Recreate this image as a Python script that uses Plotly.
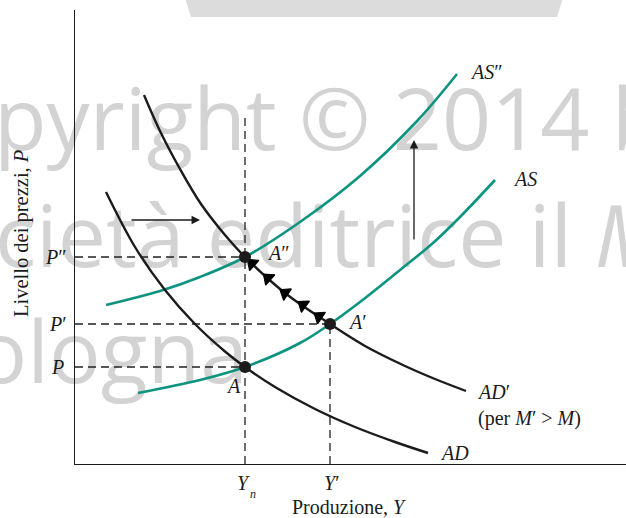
import plotly.graph_objects as go

# ---- curves: output Y (horizontal) and price level P (vertical) ----
ad_x = [3.1, 6.0, 9.0, 12.0, 15.0, 17.0, 20.0, 24.0, 28.0, 32.0, 35.3]
ad_y = [27.2, 21.7, 17.4, 14.0, 11.25, 9.7, 7.7, 5.5, 3.7, 2.2, 1.1]

adp_x = [6.9, 8.5, 10.5, 12.6, 15.0, 17.0, 21.0, 25.5, 29.0, 33.0, 36.0, 39.1]
adp_y = [36.9, 33.3, 29.5, 26.0, 22.9, 20.7, 17.1, 14.0, 11.8, 9.8, 8.5, 7.3]

as_x = [6.3, 12.5, 17.0, 22.5, 25.5, 28.5, 32.5, 35.8, 38.5, 42.0]
as_y = [7.1, 8.4, 9.7, 12.1, 14.0, 16.2, 19.4, 22.1, 24.7, 28.4]

asd_x = [3.1, 8.5, 12.5, 17.0, 22.5, 28.5, 34.3, 38.2]
asd_y = [15.9, 17.3, 18.7, 20.7, 24.2, 28.8, 34.4, 39.0]

# ---- equilibrium levels ----
Y_n, Y_1 = 17.0, 25.5
P_0, P_1, P_2 = 9.7, 14.0, 20.7
eq_x = [Y_n, Y_1, Y_n]
eq_y = [P_0, P_1, P_2]

# adjustment path from A' up to A'' along AD'
path_x = [25.5, 24.4, 22.8, 21.0, 19.3, 17.7]
path_y = [14.0, 14.75, 15.9, 17.1, 18.6, 20.05]
path_size = [0, 12, 12, 12, 12, 12]

# shift arrows: AD -> AD' (right), AS -> AS'' (up)
shift_ad = dict(x0=5.5, x1=12.5, y=24.4)
shift_as = dict(x=33.9, y0=22.3, y1=32.4)

# background copyright lines
wm_lines = ["Copyright © 2014 by", "Società editrice il <i>Mulino</i>,", "Bologna"]

W, H = 626, 518
BLACK = "#1b1b1b"
TEAL = "#0d9480"
SERIF = "Liberation Serif"

fig = go.Figure()

# watermark on a full-page pixel subplot (drawn first, sits underneath)
fig.add_trace(go.Scatter(
    x=[-112, -104, -80], y=[128, 245, 361], text=wm_lines,
    mode="text", textposition="middle right",
    textfont=dict(family="Open Sans", size=86, color="rgb(211,211,211)"),
    xaxis="x", yaxis="y", hoverinfo="skip", showlegend=False,
))

main = dict(xaxis="x2", yaxis="y2", showlegend=False, hoverinfo="skip")
dash = dict(color="#222222", width=1.3, dash="8px,5px")

# dashed guide lines
for (xs, ys) in [([0, Y_n], [P_2, P_2]), ([0, Y_1], [P_1, P_1]), ([0, Y_n], [P_0, P_0]),
                 ([Y_n, Y_n], [0, 34.7]), ([Y_1, Y_1], [0, P_1])]:
    fig.add_trace(go.Scatter(x=xs, y=ys, mode="lines", line=dash, **main))

# supply curves
for xs, ys in [(as_x, as_y), (asd_x, asd_y)]:
    fig.add_trace(go.Scatter(x=xs, y=ys, mode="lines",
                             line=dict(color=TEAL, width=2.6, shape="spline", smoothing=1.0),
                             **main))
# demand curves
for xs, ys in [(ad_x, ad_y), (adp_x, adp_y)]:
    fig.add_trace(go.Scatter(x=xs, y=ys, mode="lines",
                             line=dict(color=BLACK, width=2.4, shape="spline", smoothing=1.0),
                             **main))

# arrowheads along the adjustment path
fig.add_trace(go.Scatter(
    x=path_x, y=path_y, mode="markers",
    marker=dict(symbol="triangle-up", size=path_size, color="black", opacity=1,
                angleref="previous", line=dict(width=1.2, color="black")),
    **main))

# equilibrium points
fig.add_trace(go.Scatter(x=eq_x, y=eq_y, mode="markers",
                         marker=dict(size=12, color=BLACK), **main))

ann = []


def label(text, x, y, xanchor="left", xref="x2", yref="y2", size=20, angle=0):
    ann.append(dict(text=text, x=x, y=y, xref=xref, yref=yref, xanchor=xanchor,
                    yanchor="middle", showarrow=False, textangle=angle,
                    font=dict(family=SERIF, size=size, color=BLACK)))


label("<i>AS</i>″", 39.3, 39.2)
label("<i>AS</i>", 43.6, 28.5)
label("<i>AD</i>′", 40.0, 7.2)
label("(per <i>M</i>′ > <i>M</i>)", 40.1, 4.6)
label("<i>AD</i>", 36.3, 1.1)
label("<i>A</i>″", 19.0, 21.1)
label("<i>A</i>′", 27.1, 14.2)
label("<i>A</i>", 15.8, 7.8, xanchor="center")

# price levels on the vertical axis
label("<i>P</i>″", 69, P_2, xanchor="right", xref="x")
label("<i>P</i>′", 69, P_1, xanchor="right", xref="x")
label("<i>P</i>", 66, P_0, xanchor="right", xref="x")

# output levels on the horizontal axis
label("<i>Y</i>", Y_n - 0.2, 483, xanchor="center", yref="y")
label("<i>n</i>", Y_n + 0.8, 494, xanchor="center", yref="y", size=12)
label("<i>Y</i>′", Y_1 + 0.2, 483, xanchor="center", yref="y")

# axis titles
label("Produzione, <i>Y</i>", 27.4, 507, xanchor="center", yref="y")
label("Livello dei prezzi, <i>P</i>", 22, 23.0, xanchor="center", xref="x", size=20.5, angle=-90)

# shift arrows
ann.append(dict(x=shift_ad["x1"], y=shift_ad["y"], ax=shift_ad["x0"], ay=shift_ad["y"],
                xref="x2", yref="y2", axref="x2", ayref="y2", text="", showarrow=True,
                arrowhead=2, arrowsize=1.3, arrowwidth=1.3, arrowcolor=BLACK))
ann.append(dict(x=shift_as["x"], y=shift_as["y1"], ax=shift_as["x"], ay=shift_as["y0"],
                xref="x2", yref="y2", axref="x2", ayref="y2", text="", showarrow=True,
                arrowhead=2, arrowsize=1.3, arrowwidth=1.3, arrowcolor=BLACK))

fig.update_layout(
    width=W, height=H,
    margin=dict(l=0, r=0, t=0, b=0),
    paper_bgcolor="white", plot_bgcolor="rgba(0,0,0,0)",
    annotations=ann,
    shapes=[dict(type="path", xref="x", yref="y",
                 path="M185,-2 L563,-2 L557,17 L191,17 Z",
                 fillcolor="#dcdcdc", line=dict(width=0), layer="below")],
    # full-page pixel axes for page furniture
    xaxis=dict(domain=[0, 1], range=[0, W], visible=False, fixedrange=True),
    yaxis=dict(domain=[0, 1], range=[H, 0], visible=False, fixedrange=True),
    # economic axes
    xaxis2=dict(domain=[75 / W, 1], range=[0, 55.1], anchor="y2",
                showline=True, linecolor=BLACK, linewidth=1.4,
                showgrid=False, zeroline=False, showticklabels=False, ticks=""),
    yaxis2=dict(domain=[54 / H, 508 / H], range=[0, 45.4], anchor="x2",
                showline=True, linecolor=BLACK, linewidth=1.4,
                showgrid=False, zeroline=False, showticklabels=False, ticks=""),
)

fig.write_html("out.html")
